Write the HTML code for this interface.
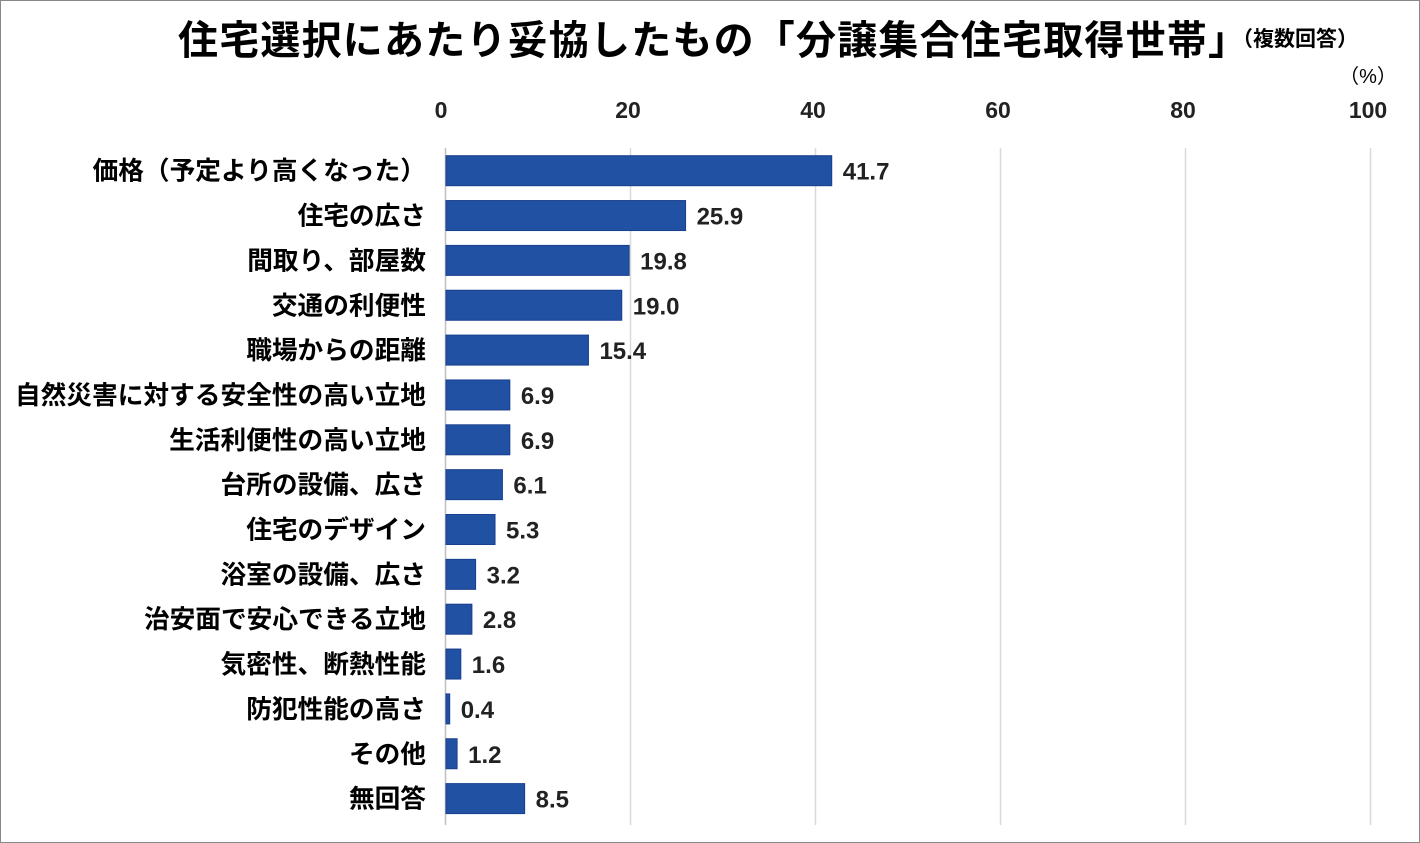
<!DOCTYPE html>
<html><head><meta charset="utf-8"><style>
body{margin:0;background:#fff;}
svg{display:block;font-family:"Liberation Sans","Noto Sans CJK JP",sans-serif;}
</style></head><body>
<svg width="1420" height="843" viewBox="0 0 1420 843" xmlns="http://www.w3.org/2000/svg">
<rect x="0.5" y="0.5" width="1419" height="842" fill="#fff" stroke="#888"/>
<text x="178" y="54" font-size="40" font-weight="bold" fill="#000" letter-spacing="1.2">住宅選択にあたり妥協したもの「分譲集合住宅取得世帯」</text>
<text x="1232" y="46" font-size="21" font-weight="bold" fill="#000">（複数回答）</text>
<text x="1368" y="83" font-size="20" fill="#000" text-anchor="middle">（%）</text>
<g font-size="23" font-weight="bold" fill="#222" text-anchor="middle">
<text x="441" y="118">0</text><text x="628" y="118">20</text><text x="813" y="118">40</text>
<text x="998" y="118">60</text><text x="1183" y="118">80</text><text x="1368" y="118">100</text>
</g>
<g stroke="#d9d9d9" stroke-width="1.5">
<line x1="630.5" y1="148" x2="630.5" y2="825"/><line x1="815.5" y1="148" x2="815.5" y2="825"/>
<line x1="1000.5" y1="148" x2="1000.5" y2="825"/><line x1="1185.5" y1="148" x2="1185.5" y2="825"/>
<line x1="1370.5" y1="148" x2="1370.5" y2="825"/>
</g>
<line x1="445.5" y1="148" x2="445.5" y2="825" stroke="#bfbfbf" stroke-width="1.5"/>
<g id="bars" fill="#2151a3" stroke="#1a3f8f" stroke-width="1"></g>
<g fill="#000" id="lbl"></g>
<script>
var d=[["価格（予定より高くなった）",41.7],["住宅の広さ",25.9],["間取り、部屋数",19.8],["交通の利便性",19.0],["職場からの距離",15.4],["自然災害に対する安全性の高い立地",6.9],["生活利便性の高い立地",6.9],["台所の設備、広さ",6.1],["住宅のデザイン",5.3],["浴室の設備、広さ",3.2],["治安面で安心できる立地",2.8],["気密性、断熱性能",1.6],["防犯性能の高さ",0.4],["その他",1.2],["無回答",8.5]];
var ns="http://www.w3.org/2000/svg",b=document.getElementById("bars"),l=document.getElementById("lbl");
d.forEach(function(r,i){var yc=170.7+i*44.85,w=r[1]*9.25;
var e=document.createElementNS(ns,"rect");e.setAttribute("x",446);e.setAttribute("y",yc-15);e.setAttribute("width",Math.max(w,1.5));e.setAttribute("height",30);b.appendChild(e);
var t=document.createElementNS(ns,"text");t.setAttribute("x",426);t.setAttribute("y",yc+9);t.setAttribute("text-anchor","end");t.setAttribute("font-size","25.7");t.setAttribute("font-weight","bold");t.textContent=r[0];l.appendChild(t);
var v=document.createElementNS(ns,"text");v.setAttribute("x",446+w+11);v.setAttribute("y",yc+9);v.setAttribute("font-size","24");v.setAttribute("font-weight","bold");v.setAttribute("fill","#222");v.textContent=r[1].toFixed(1);l.appendChild(v);});
</script>
</svg>
</body></html>
